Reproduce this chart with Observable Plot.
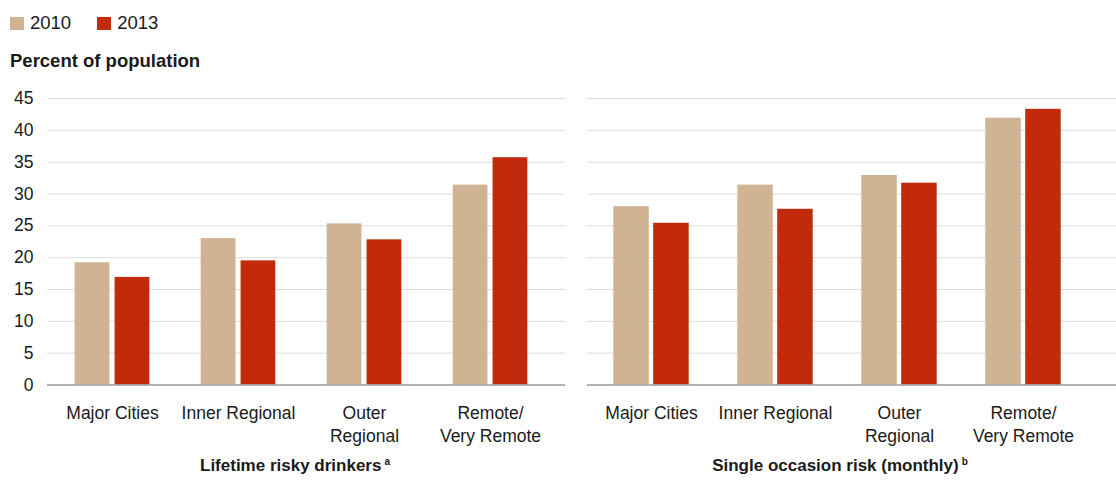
<!DOCTYPE html>
<html>
<head>
<meta charset="utf-8">
<script src="https://cdn.jsdelivr.net/npm/d3@7"></script>
<script src="https://cdn.jsdelivr.net/npm/@observablehq/plot@0.6"></script>
<style>
  html, body { margin: 0; padding: 0; background: #fff; }
  body { width: 1116px; height: 482px; position: relative; overflow: hidden;
         font-family: "Liberation Sans", Arial, Helvetica, sans-serif; color: #1a1a1a; }
  #legend { position: absolute; left: 10px; top: 12px; display: flex; align-items: center; font-size: 18.5px; }
  .item { display: flex; align-items: center; margin-right: 26px; }
  .sw { width: 14px; height: 13px; margin-right: 6px; }
  #ytitle { position: absolute; left: 10px; top: 50px; font-weight: bold; font-size: 18.5px; }
  #left { position: absolute; left: 0; top: 80px; }
  #right { position: absolute; left: 577px; top: 80px; }
  .cap { position: absolute; top: 456px; font-weight: bold; font-size: 17px; text-align: center; }
  .cap sup { font-size: 10px; vertical-align: 6px; font-weight: bold; margin-left: 3px; }
</style>
</head>
<body>
<div id="legend"></div>
<div id="ytitle">Percent of population</div>
<div id="left"></div>
<div id="right"></div>
<div class="cap" id="capL" style="left:95px;width:400px">Lifetime risky drinkers<sup>a</sup></div>
<div class="cap" id="capR" style="left:640px;width:400px">Single occasion risk (monthly)<sup>b</sup></div>
<script>
// ---- data ----
const years = ["2010", "2013"];
const yearColors = ["#cfb393", "#c12b0c"];
const regions = ["Major Cities", "Inner Regional", "Outer\nRegional", "Remote/\nVery Remote"];
const lifetime2010 = [19.2, 23.0, 25.3, 31.4];
const lifetime2013 = [16.9, 19.5, 22.8, 35.7];
const single2010 = [28.0, 31.4, 32.9, 41.9];
const single2013 = [25.4, 27.6, 31.7, 43.3];
const yTicks = [0, 5, 10, 15, 20, 25, 30, 35, 40, 45];

// legend
const leg = document.getElementById("legend");
years.forEach((y, i) => {
  const d = document.createElement("div");
  d.className = "item";
  d.innerHTML = `<span class="sw" style="background:${yearColors[i]}"></span><span>${y}</span>`;
  leg.appendChild(d);
});

function rows(v10, v13) {
  const out = [];
  regions.forEach((r, i) => {
    out.push({region: r, year: "2010", value: v10[i]});
    out.push({region: r, year: "2013", value: v13[i]});
  });
  return out;
}

function panel({data, width, marginLeft, marginRight, range, showY}) {
  const H = 370, mt = 18, mb = 65.5;
  const bw = (range[1] - range[0]) / regions.length;
  const barW = 35.5, gap = 2.2;
  const d10 = data.filter(d => d.year === "2010");
  const d13 = data.filter(d => d.year === "2013");
  return Plot.plot({
    width, height: H, marginTop: mt, marginBottom: mb, marginLeft, marginRight,
    style: {fontFamily: '"Liberation Sans", Arial, Helvetica, sans-serif', fontSize: "17.5px", color: "#1a1a1a", background: "transparent"},
    x: {domain: regions, range, padding: 0, axis: null},
    y: {domain: [0, 45], ticks: yTicks, axis: null},
    color: {domain: years, range: yearColors},
    marks: [
      Plot.gridY(yTicks.filter(t => t > 0), {stroke: "#dcdcdc", strokeOpacity: 1, strokeWidth: 1}),
      showY ? Plot.axisY({ticks: yTicks, tickSize: 0, tickPadding: 14, label: null, fontSize: 17.5}) : null,
      Plot.barY(d10, {x: "region", y: "value", fill: "year", insetLeft: bw/2 - gap - barW, insetRight: bw/2 + gap}),
      Plot.barY(d13, {x: "region", y: "value", fill: "year", insetLeft: bw/2 + gap, insetRight: bw/2 - gap - barW}),
      Plot.ruleY([0], {stroke: "#9a9a9a", strokeWidth: 1.5}),
      Plot.axisX({tickSize: 0, tickPadding: 17, label: null, fontSize: 17.5, lineHeight: 1.33, lineAnchor: "top"})
    ]
  });
}

document.getElementById("left").appendChild(panel({
  data: rows(lifetime2010, lifetime2013), width: 575, marginLeft: 47, marginRight: 10,
  range: [47, 554], showY: true
}));
document.getElementById("right").appendChild(panel({
  data: rows(single2010, single2013), width: 539, marginLeft: 10, marginRight: 0,
  range: [12, 508], showY: false
}));
</script>
</body>
</html>
